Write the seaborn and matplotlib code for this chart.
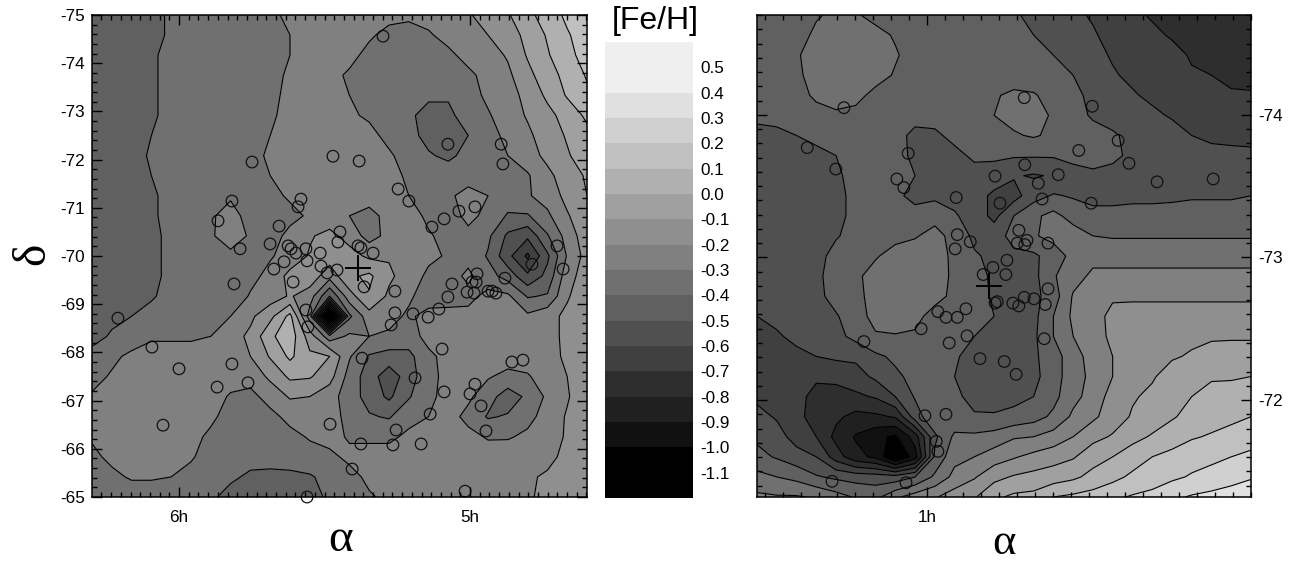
import numpy as np
import pandas as pd
import matplotlib
matplotlib.use("Agg")
import matplotlib.pyplot as plt
import seaborn as sns
from matplotlib.colors import BoundaryNorm, ListedColormap
from matplotlib.ticker import FixedLocator, MultipleLocator

# -----------------------------
# Data, [Fe/H] in units of 0.01 dex
# -----------------------------

lmc_feh = [
    [-48,-46,-44,-42,-39,-37,-35,-34,-33,-31,-29,-28,-27,-27,-27,-28,-28,-27,-26,-21,-16,-11,-3,5,12,17],
    [-48,-46,-44,-42,-39,-37,-35,-34,-33,-32,-30,-28,-27,-27,-29,-32,-34,-31,-27,-24,-20,-15,-7,1,9,15],
    [-48,-46,-44,-41,-38,-36,-35,-34,-33,-32,-30,-29,-28,-28,-32,-34,-36,-35,-32,-27,-24,-19,-9,-1,7,14],
    [-48,-46,-43,-41,-38,-36,-35,-34,-33,-32,-29,-28,-28,-31,-34,-36,-36,-37,-36,-32,-27,-22,-13,-4,3,11],
    [-47,-45,-43,-41,-38,-36,-35,-34,-33,-31,-29,-28,-29,-30,-33,-36,-38,-39,-39,-34,-28,-24,-17,-8,1,8],
    [-47,-45,-43,-41,-38,-36,-35,-34,-33,-31,-28,-27,-28,-29,-31,-35,-39,-42,-42,-36,-31,-25,-19,-13,-6,2],
    [-47,-45,-43,-40,-38,-36,-35,-34,-32,-30,-27,-26,-26,-27,-28,-32,-37,-43,-43,-40,-33,-28,-22,-15,-9,-3],
    [-47,-45,-43,-39,-37,-36,-35,-33,-32,-29,-27,-26,-26,-26,-27,-29,-33,-39,-42,-37,-33,-30,-25,-17,-11,-5],
    [-47,-45,-43,-40,-37,-36,-35,-33,-32,-30,-27,-26,-26,-26,-27,-28,-31,-33,-35,-35,-34,-32,-31,-23,-14,-9],
    [-47,-45,-43,-41,-38,-36,-35,-31,-33,-32,-29,-26,-26,-26,-26,-27,-30,-33,-32,-26,-30,-35,-31,-26,-17,-10],
    [-47,-45,-43,-41,-38,-35,-31,-27,-33,-33,-32,-29,-26,-30,-33,-27,-26,-32,-35,-27,-33,-41,-41,-32,-21,-13],
    [-47,-45,-43,-41,-39,-36,-31,-26,-31,-33,-28,-21,-17,-24,-34,-27,-26,-29,-33,-33,-38,-52,-58,-41,-26,-14],
    [-47,-45,-43,-41,-39,-37,-34,-32,-33,-31,-26,-19,-15,-16,-22,-21,-26,-28,-31,-33,-41,-57,-72,-52,-29,-16],
    [-47,-45,-43,-41,-39,-36,-38,-38,-33,-27,-17,-14,-26,-12,-8,-18,-25,-32,-34,-28,-36,-44,-58,-47,-24,-15],
    [-47,-46,-44,-41,-37,-36,-40,-37,-29,-25,-19,-25,-50,-24,-11,-22,-28,-36,-35,-33,-27,-28,-41,-39,-21,-14],
    [-45,-42,-40,-37,-35,-35,-34,-30,-22,-13,3,-35,-135,-42,-24,-26,-32,-26,-26,-27,-27,-27,-28,-23,-18,-15],
    [-43,-39,-35,-31,-31,-31,-30,-24,-18,-2,6,-15,-36,-28,-30,-32,-34,-27,-25,-25,-25,-25,-25,-23,-18,-15],
    [-37,-32,-28,-27,-27,-27,-26,-23,-20,-9,2,-8,-10,-29,-41,-44,-43,-32,-27,-26,-25,-25,-25,-22,-19,-15],
    [-33,-29,-27,-26,-26,-26,-26,-26,-26,-18,-8,-9,-16,-34,-45,-56,-45,-33,-27,-27,-29,-33,-31,-25,-20,-14],
    [-29,-26,-26,-26,-26,-26,-26,-31,-33,-26,-19,-20,-26,-35,-44,-52,-41,-32,-27,-28,-36,-45,-38,-28,-21,-13],
    [-27,-26,-25,-25,-25,-25,-28,-34,-34,-33,-27,-23,-26,-33,-39,-41,-33,-30,-26,-33,-41,-39,-33,-26,-19,-12],
    [-29,-26,-26,-26,-26,-27,-32,-36,-36,-36,-33,-29,-27,-31,-32,-32,-28,-26,-26,-27,-31,-31,-28,-24,-19,-13],
    [-32,-28,-27,-27,-27,-29,-34,-38,-38,-37,-36,-34,-32,-28,-26,-26,-25,-25,-25,-25,-25,-24,-24,-22,-18,-14],
    [-34,-32,-29,-29,-30,-33,-37,-39,-41,-42,-42,-41,-37,-33,-28,-26,-25,-25,-25,-24,-24,-23,-21,-19,-17,-15],
    [-37,-36,-35,-35,-36,-38,-39,-42,-44,-44,-44,-42,-39,-36,-31,-28,-26,-25,-24,-23,-22,-21,-21,-18,-17,-11],
]

smc_feh = [
    [-47,-46,-45,-41,-38,-39,-43,-44,-45,-46,-47,-48,-49,-49,-52,-55,-58,-61,-64,-68,-71,-74,-75,-76,-77,-78],
    [-47,-46,-44,-38,-35,-35,-37,-41,-44,-45,-46,-46,-47,-48,-50,-53,-56,-59,-63,-66,-68,-71,-73,-75,-76,-77],
    [-47,-46,-41,-36,-33,-33,-35,-39,-44,-45,-46,-46,-46,-47,-47,-50,-54,-57,-61,-63,-65,-67,-71,-73,-75,-76],
    [-47,-46,-42,-36,-33,-33,-36,-41,-45,-45,-46,-46,-45,-45,-46,-48,-50,-54,-59,-62,-65,-67,-69,-70,-72,-73],
    [-47,-46,-44,-38,-35,-37,-43,-45,-46,-46,-46,-46,-41,-38,-39,-44,-48,-52,-56,-59,-62,-64,-67,-68,-69,-69],
    [-47,-46,-45,-44,-42,-43,-45,-46,-46,-46,-46,-46,-40,-37,-37,-41,-47,-51,-53,-56,-58,-61,-63,-64,-65,-66],
    [-54,-53,-50,-48,-46,-45,-45,-46,-53,-52,-47,-46,-44,-41,-39,-42,-46,-47,-49,-52,-54,-56,-60,-62,-63,-64],
    [-56,-55,-54,-52,-50,-46,-45,-45,-53,-55,-53,-48,-48,-49,-49,-49,-47,-46,-48,-52,-54,-55,-56,-57,-57,-57],
    [-57,-56,-55,-54,-52,-46,-41,-41,-50,-54,-53,-54,-55,-59,-61,-59,-54,-52,-53,-54,-54,-54,-55,-55,-55,-55],
    [-58,-57,-56,-55,-53,-47,-45,-47,-54,-52,-53,-56,-62,-64,-54,-49,-51,-53,-53,-52,-52,-52,-51,-51,-51,-50],
    [-58,-57,-56,-55,-53,-47,-45,-43,-45,-44,-49,-54,-63,-50,-42,-37,-44,-47,-47,-47,-47,-46,-46,-46,-46,-46],
    [-58,-57,-56,-55,-51,-46,-45,-43,-41,-36,-44,-52,-54,-47,-41,-37,-35,-40,-41,-41,-41,-41,-41,-41,-41,-41],
    [-58,-57,-56,-54,-46,-43,-41,-36,-34,-34,-43,-49,-52,-52,-52,-45,-37,-33,-33,-33,-33,-33,-33,-33,-33,-33],
    [-59,-58,-57,-53,-44,-42,-36,-33,-32,-33,-43,-46,-52,-55,-53,-41,-34,-28,-28,-28,-28,-28,-28,-28,-28,-28],
    [-59,-58,-57,-53,-46,-43,-36,-31,-30,-33,-45,-47,-51,-54,-53,-45,-29,-24,-21,-22,-22,-22,-22,-22,-22,-22],
    [-60,-58,-57,-55,-51,-44,-37,-33,-34,-48,-46,-48,-50,-52,-53,-40,-28,-23,-18,-15,-15,-15,-15,-15,-15,-15],
    [-62,-61,-58,-56,-53,-47,-41,-41,-43,-49,-46,-50,-52,-53,-52,-40,-30,-22,-19,-15,-13,-12,-12,-11,-11,-11],
    [-66,-64,-62,-60,-58,-58,-52,-48,-47,-45,-49,-53,-54,-54,-52,-44,-35,-25,-20,-16,-14,-11,-9,-7,-6,-6],
    [-65,-67,-67,-69,-68,-64,-58,-52,-47,-45,-50,-54,-55,-55,-53,-44,-35,-27,-20,-14,-11,-6,-3,-1,-1,0],
    [-62,-65,-68,-72,-73,-72,-69,-60,-49,-44,-48,-53,-54,-53,-50,-43,-33,-26,-16,-11,-8,-3,0,3,4,5],
    [-57,-61,-68,-73,-78,-83,-82,-79,-55,-42,-47,-49,-49,-47,-44,-38,-28,-22,-15,-9,-5,-1,3,6,8,10],
    [-52,-56,-64,-70,-83,-91,-97,-102,-85,-52,-38,-38,-36,-31,-30,-26,-20,-13,-9,-3,1,5,9,11,13,16],
    [-47,-51,-56,-60,-75,-87,-92,-112,-95,-48,-33,-30,-25,-21,-17,-14,-11,-4,0,5,10,13,16,18,20,22],
    [-37,-40,-43,-49,-52,-54,-55,-56,-50,-38,-27,-21,-13,-9,-7,-5,-2,3,7,12,15,18,21,23,26,29],
    [-28,-29,-29,-31,-36,-41,-43,-32,-25,-21,-15,-11,-2,2,3,10,12,14,18,21,23,28,31,33,35,37],
]

lmc_ra = [5.749,5.471,5.818,5.866,5.581,5.591,5.656,5.687,5.790,5.625,5.615,5.598,5.564,5.515,5.560,5.512,5.639,5.674,
          5.447,5.454,5.491,5.457,5.299,5.381,5.076,4.893,4.887,5.247,5.210,4.983,5.038,5.089,5.131,5.385,5.375,5.333,
          4.701,4.680,4.787,4.976,4.880,5.062,4.993,4.979,5.010,4.986,5.076,4.938,4.924,4.911,5.107,5.144,5.196,5.258,
          5.271,5.258,5.364,5.096,5.371,5.189,4.983,5.000,5.089,4.962,5.137,4.945,4.856,4.818,5.481,5.254,5.375,5.265,
          5.168,5.405,5.017,6.210,6.093,6.000,5.869,5.818,5.763,6.055,5.811,5.608,5.564,5.557,5.560]
lmc_dec = [-71.95,-72.07,-71.14,-70.73,-71.18,-71.02,-70.62,-70.25,-70.15,-70.21,-70.15,-70.06,-70.15,-70.06,-69.90,-69.79,-69.88,-69.73,
           -70.50,-70.29,-69.65,-69.71,-74.56,-71.97,-72.32,-72.32,-71.91,-71.39,-71.14,-71.02,-70.93,-70.77,-70.60,-70.21,-70.17,-70.06,
           -70.21,-69.73,-69.83,-69.63,-69.54,-69.42,-69.46,-69.46,-69.25,-69.23,-69.15,-69.27,-69.27,-69.23,-68.90,-68.73,-68.80,-68.82,
           -68.57,-69.27,-69.36,-68.07,-67.88,-67.47,-67.34,-67.14,-67.18,-66.89,-66.72,-66.37,-67.80,-67.84,-66.51,-66.39,-66.10,-66.08,
           -66.10,-65.58,-65.12,-68.71,-68.11,-67.66,-67.28,-67.76,-67.37,-66.49,-69.42,-69.46,-68.88,-68.53,-65.00]

smc_ra = [1.154,1.222,1.169,1.035,1.056,1.043,0.946,0.874,0.865,0.819,0.820,0.944,0.948,0.920,0.830,0.833,0.819,0.852,0.878,0.896,0.854,
          0.694,0.646,0.719,0.626,0.574,0.470,0.757,0.794,0.787,0.696,0.776,0.815,0.874,0.870,0.841,0.830,0.820,0.928,0.980,0.965,0.944,
          1.011,0.926,0.959,1.117,0.902,0.857,0.835,1.004,0.965,0.983,0.980,1.039,1.176,0.776,0.781,0.802,0.783]
smc_dec = [-74.05,-73.77,-73.62,-73.73,-73.55,-73.49,-73.42,-73.57,-73.38,-73.65,-74.12,-73.16,-73.06,-73.11,-73.19,-73.10,-73.09,-72.98,-72.93,-72.88,-72.88,
           -74.06,-73.82,-73.75,-73.66,-73.53,-73.55,-73.58,-73.52,-73.41,-73.38,-73.10,-73.12,-72.68,-72.69,-72.68,-72.66,-72.72,-72.64,-72.62,-72.58,-72.58,
           -72.50,-72.45,-72.40,-72.41,-72.29,-72.27,-72.18,-71.89,-71.90,-71.71,-71.64,-71.42,-71.43,-72.78,-72.67,-72.71,-72.43]

lmc_centre = (5.385, -69.75)
smc_centre = (0.885, -72.80)

band_edges = [-1.2,-1.0,-0.9,-0.8,-0.7,-0.6,-0.5,-0.4,-0.3,-0.2,-0.1,0.0,0.1,0.2,0.3,0.4,0.6]
band_greys = ["#000000","#111111","#202020","#2e2e2e","#404040","#505050","#606060","#707070",
              "#808080","#8f8f8f","#a0a0a0","#b0b0b0","#c0c0c0","#d0d0d0","#e0e0e0","#efefef"]
bar_labels = [-1.1,-1.0,-0.9,-0.8,-0.7,-0.6,-0.5,-0.4,-0.3,-0.2,-0.1,0.0,0.1,0.2,0.3,0.4,0.5]

# -----------------------------
# Style
# -----------------------------

sns.set_style("ticks", {"axes.edgecolor": "k", "xtick.color": "k", "ytick.color": "k", "text.color": "k"})
plt.rcParams["font.family"] = ["Liberation Sans", "DejaVu Sans"]
plt.rcParams["axes.unicode_minus"] = False

cmap = ListedColormap(band_greys)
norm = BoundaryNorm(band_edges, cmap.N)
W, H = 1298, 562


def panel_axes(x0, y0, x1, y1):
    return fig.add_axes([x0 / W, 1 - y1 / H, (x1 - x0) / W, (y1 - y0) / H])


def draw_map(ax, feh, ra, dec, ra_lim, dec_lim, centre):
    field = np.array(feh) / 100
    ra_nodes = np.linspace(ra_lim[0], ra_lim[1], field.shape[1])
    dec_nodes = np.linspace(dec_lim[1], dec_lim[0], field.shape[0])
    ax.contourf(ra_nodes, dec_nodes, field, levels=band_edges, cmap=cmap, norm=norm, extend="both")
    ax.contour(ra_nodes, dec_nodes, field, levels=band_edges[1:-1], colors="k",
               linewidths=0.8, linestyles="solid")
    sns.scatterplot(
        data=pd.DataFrame({"ra": ra, "dec": dec}), x="ra", y="dec", ax=ax,
        marker="o", s=70, facecolor="none", edgecolor="#111111", linewidth=0.9, clip_on=False,
    )
    ax.plot(*centre, marker="+", ms=19, mew=1.4, color="k", ls="none")
    ax.set_xlim(ra_lim)
    ax.set_ylim(dec_lim)
    ax.set_xlabel("")
    ax.set_ylabel("")
    ax.set_axisbelow(False)
    ax.tick_params(which="both", direction="in", top=True, right=True, width=1, labelsize=12.3)
    ax.tick_params(which="major", length=7)
    ax.tick_params(which="minor", length=3.5)
    for side in ax.spines.values():
        side.set_linewidth(1.1)
        side.set_zorder(5)


fig = plt.figure(figsize=(W / 100, H / 100), dpi=100)

# -----------------------------
# Left map
# -----------------------------

ax1 = panel_axes(92, 15, 587, 497)
draw_map(ax1, lmc_feh, lmc_ra, lmc_dec, (6.299, 4.598), (-65, -75), lmc_centre)
ax1.xaxis.set_major_locator(FixedLocator([6, 5]))
ax1.set_xticklabels(["6h", "5h"])
ax1.xaxis.set_minor_locator(MultipleLocator(1 / 30))
ax1.yaxis.set_major_locator(MultipleLocator(1))
ax1.yaxis.set_minor_locator(MultipleLocator(0.2))
ax1.yaxis.set_major_formatter(lambda v, pos: f"{v:.0f}")
ax1.tick_params(axis="x", pad=9)
ax1.tick_params(axis="y", pad=5)

# -----------------------------
# Right map
# -----------------------------

ax2 = panel_axes(757, 15, 1251, 497)
draw_map(ax2, smc_feh, smc_ra, smc_dec, (1.315, 0.4), (-71.32, -74.70), smc_centre)
ax2.xaxis.set_major_locator(FixedLocator([1]))
ax2.set_xticklabels(["1h"])
ax2.xaxis.set_minor_locator(MultipleLocator(1 / 30))
ax2.yaxis.set_major_locator(MultipleLocator(1))
ax2.yaxis.set_minor_locator(MultipleLocator(0.1))
ax2.yaxis.set_major_formatter(lambda v, pos: f"{v:.0f}")
ax2.tick_params(axis="y", labelleft=False, labelright=True, pad=5)
ax2.tick_params(axis="x", pad=9)

# -----------------------------
# Grey scale bar
# -----------------------------

ax3 = panel_axes(605, 42, 693, 498)
ax3.pcolormesh([0, 1], band_edges, np.arange(16).reshape(-1, 1), cmap=cmap, vmin=-0.5, vmax=15.5)
ax3.set_ylim(-1.2, 0.6)
ax3.set_xticks([])
ax3.yaxis.tick_right()
ax3.set_yticks(bar_labels)
ax3.set_yticklabels([f"{v:.1f}" for v in bar_labels])
ax3.tick_params(axis="y", length=0, pad=5, labelsize=12.3)
sns.despine(ax=ax3, left=True, right=True, top=True, bottom=True)

fig.text(655 / W, 1 - 21 / H, "[Fe/H]", ha="center", va="center", fontsize=23)
fig.text(341 / W, 1 - 540 / H, "\u03b1", ha="center", va="center", fontsize=34, family="Liberation Serif")
fig.text(1004 / W, 1 - 543 / H, "\u03b1", ha="center", va="center", fontsize=32, family="Liberation Serif")
fig.text(33 / W, 1 - 254 / H, "\u03b4", ha="center", va="center", fontsize=34, rotation=90, family="Liberation Serif")

plt.savefig("out.png", dpi=100)
